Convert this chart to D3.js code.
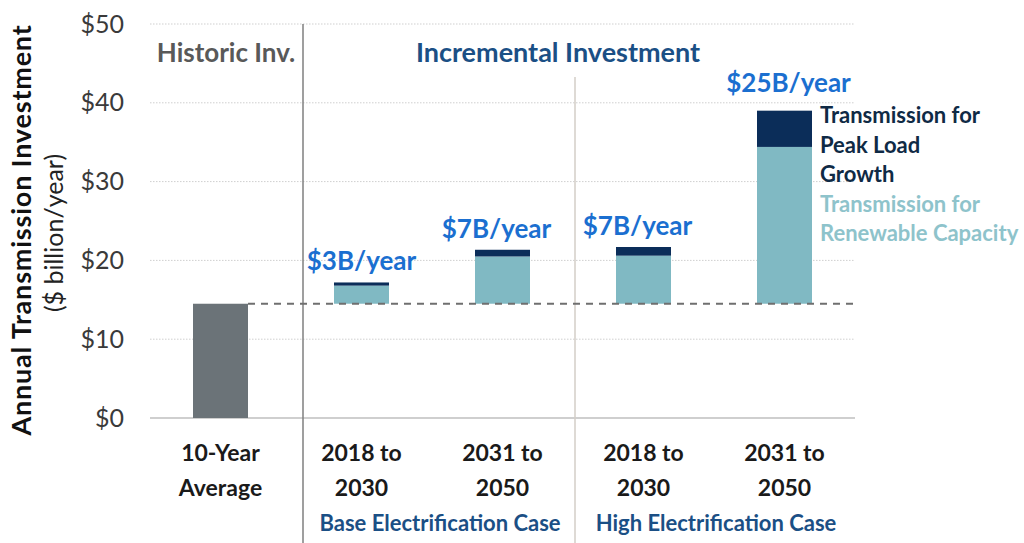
<!DOCTYPE html>
<html><head><meta charset="utf-8">
<script src="https://cdn.jsdelivr.net/npm/d3@7"></script>
<style>body{margin:0;background:#fff}svg{display:block}text{font-family:Lato,"Open Sans",sans-serif}</style>
</head><body>
<svg id="c" width="1024" height="543"></svg>
<script>
const categories = ["10-Year|Average","2018 to|2030","2031 to|2050","2018 to|2030","2031 to|2050"];
const historic = [14.5, 0, 0, 0, 0];
const baseline = [0, 14.5, 14.5, 14.5, 14.5];
const renewable = [0, 2.3, 6.0, 6.1, 19.9];
const peakLoad = [0, 0.4, 0.85, 1.1, 4.6];
const totalLabels = ["", "$3B/year", "$7B/year", "$7B/year", "$25B/year"];
const yTicks = [0, 10, 20, 30, 40, 50];

const svg = d3.select("#c");
const x = d3.scaleBand().domain(d3.range(categories.length)).range([150, 855]).paddingInner(0.61).paddingOuter(0.305);
const y = d3.scaleLinear().domain([0, 50]).range([418, 24]);

// gridlines
svg.append("g").selectAll("line").data(yTicks.filter(d => d > 0)).join("line")
  .attr("x1", 150).attr("x2", 855).attr("y1", d => y(d)).attr("y2", d => y(d))
  .attr("stroke", "#cfcfcf").attr("stroke-width", 1).attr("stroke-dasharray", "1.5,1.5");
svg.append("line").attr("x1", 150).attr("x2", 855).attr("y1", y(0)).attr("y2", y(0))
  .attr("stroke", "#bfbfbf").attr("stroke-width", 1.5);

// y axis labels
const yAxis = d3.axisLeft(y).tickValues(yTicks).tickFormat(d => "$" + d).tickSize(0).tickPadding(0);
const ga = svg.append("g").attr("transform", "translate(124,0)").call(yAxis);
ga.select(".domain").remove();
ga.selectAll("text").attr("font-size", 25).attr("fill", "#3a3a3a").attr("font-family", "Lato,'Open Sans',sans-serif");

// y title
svg.append("text").attr("transform", "translate(31,230) rotate(-90)").attr("text-anchor", "middle")
  .attr("font-size", 27).attr("font-weight", "bold").attr("fill", "#111").attr("letter-spacing", 0.8).text("Annual Transmission Investment");
svg.append("text").attr("transform", "translate(63,233) rotate(-90)").attr("text-anchor", "middle")
  .attr("font-size", 25).attr("fill", "#222").text("($ billion/year)");

// separators
svg.append("line").attr("x1", 303).attr("x2", 303).attr("y1", 24).attr("y2", 543).attr("stroke", "#7f7f7f").attr("stroke-width", 1.5);
svg.append("line").attr("x1", 575).attr("x2", 575).attr("y1", 77).attr("y2", 543).attr("stroke", "#d3cec7").attr("stroke-width", 1.5);

// bars
const bw = x.bandwidth();
svg.append("g").selectAll("rect").data(historic).join("rect")
  .attr("x", (d, i) => x(i)).attr("width", bw).attr("y", d => y(d)).attr("height", d => y(0) - y(d))
  .attr("fill", "#6b7378");
svg.append("g").selectAll("rect").data(renewable).join("rect")
  .attr("x", (d, i) => x(i)).attr("width", bw)
  .attr("y", (d, i) => y(baseline[i] + d)).attr("height", (d, i) => y(baseline[i]) - y(baseline[i] + d))
  .attr("fill", "#80b9c3");
svg.append("g").selectAll("rect").data(peakLoad).join("rect")
  .attr("x", (d, i) => x(i)).attr("width", bw)
  .attr("y", (d, i) => y(baseline[i] + renewable[i] + d)).attr("height", (d, i) => y(baseline[i] + renewable[i]) - y(baseline[i] + renewable[i] + d))
  .attr("fill", "#0b2d59");

// dashed baseline
svg.append("line").attr("x1", x(0) + bw).attr("x2", 855).attr("y1", y(historic[0])).attr("y2", y(historic[0]))
  .attr("stroke", "#6f6f6f").attr("stroke-width", 2).attr("stroke-dasharray", "7,6");

// total labels
svg.append("g").selectAll("text").data(totalLabels).join("text")
  .attr("x", (d, i) => x(i) + bw / 2 + (i === 1 ? 0 : i === 4 ? 4 : -6))
  .attr("y", (d, i) => y(baseline[i] + renewable[i] + peakLoad[i]) - (i === 4 ? 19 : 12))
  .attr("text-anchor", "middle").attr("font-size", 26).attr("font-weight", "bold").attr("fill", "#1b6fd0")
  .text(d => d);

// section headers
svg.append("text").attr("x", 226).attr("y", 62).attr("text-anchor", "middle").attr("font-size", 26).attr("font-weight", "bold").attr("fill", "#595959").text("Historic Inv.");
svg.append("text").attr("x", 558).attr("y", 62).attr("text-anchor", "middle").attr("font-size", 27).attr("font-weight", "bold").attr("fill", "#1b4f85").text("Incremental Investment");

// x labels
const xl = svg.append("g").selectAll("text").data(categories).join("text")
  .attr("text-anchor", "middle").attr("font-size", 23).attr("font-weight", "bold").attr("fill", "#1a1a1a");
xl.each(function(d, i) {
  const t = d3.select(this);
  d.split("|").forEach((s, k) => t.append("tspan").attr("x", x(i) + bw / 2).attr("y", 461 + k * 35).text(s));
});

// case labels
svg.append("text").attr("x", 440).attr("y", 531).attr("text-anchor", "middle").attr("font-size", 22).attr("font-weight", "bold").attr("fill", "#1b4f85").text("Base Electrification Case");
svg.append("text").attr("x", 716).attr("y", 531).attr("text-anchor", "middle").attr("font-size", 22).attr("font-weight", "bold").attr("fill", "#1b4f85").text("High Electrification Case");

// legend text
const leg1 = ["Transmission for", "Peak Load", "Growth"];
const leg2 = ["Transmission for", "Renewable Capacity"];
svg.append("g").selectAll("text").data(leg1).join("text").attr("x", 820).attr("y", (d, i) => 123 + i * 29.5)
  .attr("font-size", 22).attr("font-weight", "bold").attr("fill", "#0f2a45").text(d => d);
svg.append("g").selectAll("text").data(leg2).join("text").attr("x", 820).attr("y", (d, i) => 212 + i * 28.5)
  .attr("font-size", 22).attr("font-weight", "bold").attr("fill", "#8ec3cb").text(d => d);
</script>
</body></html>
